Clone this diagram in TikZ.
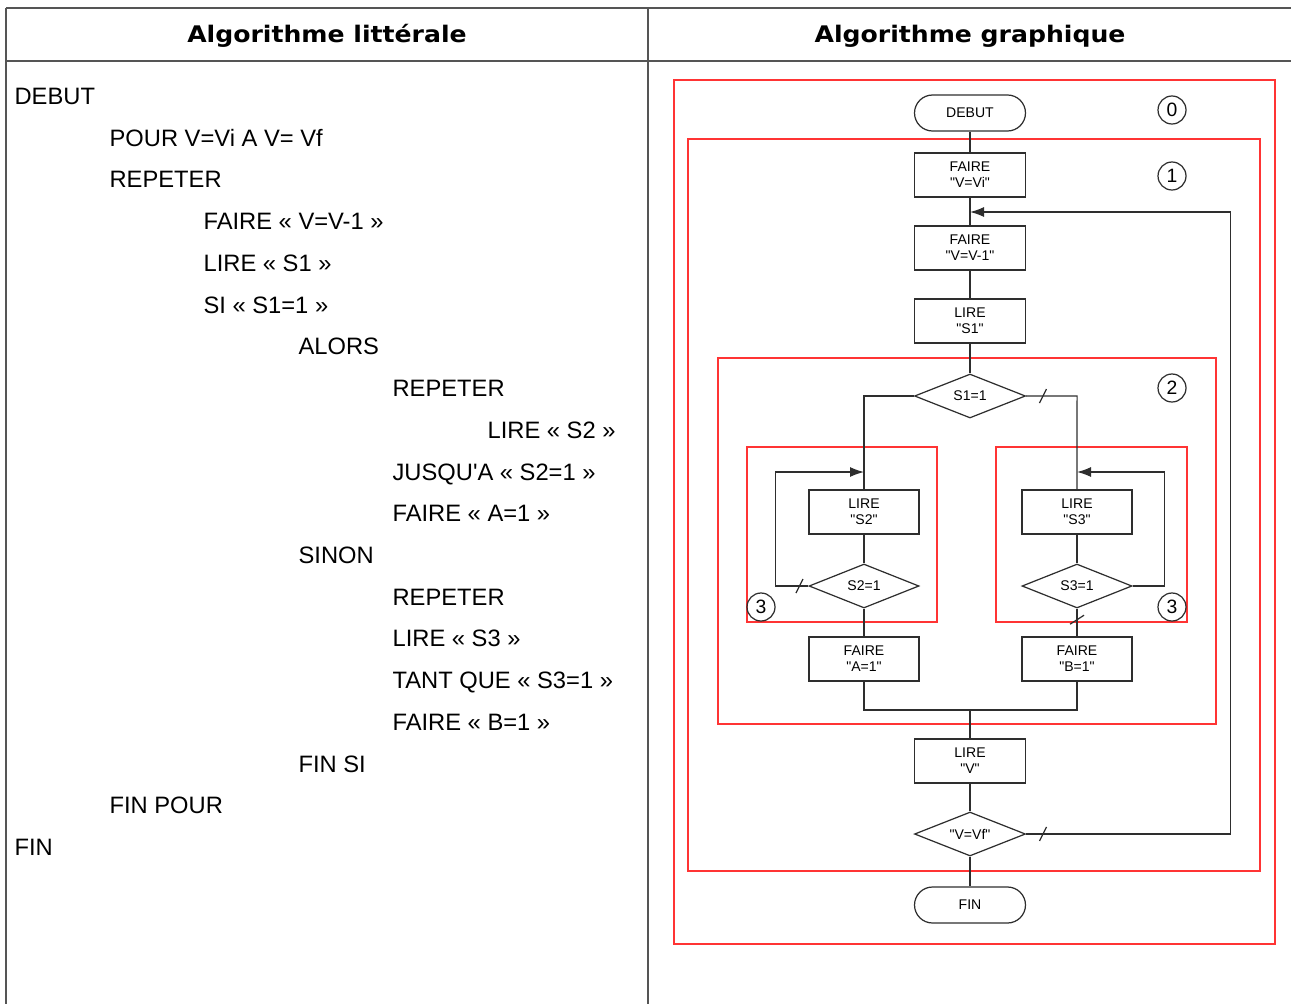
\documentclass[tikz,border=0pt]{standalone}
\usepackage{fontspec}
\newfontfamily\arialfont{Liberation Sans}
\newfontfamily\headfont{DejaVu Sans}
\usepackage{tikz}
\usetikzlibrary{shapes.geometric, arrows.meta, positioning, calc}
\definecolor{zonered}{HTML}{FF3434}
\definecolor{flowline}{HTML}{2E2E2E}
\definecolor{tabgray}{HTML}{555555}
\tikzstyle{algo} = [anchor=base west, inner sep=0pt, font=\arialfont\fontsize{13.5}{16}\selectfont]
\tikzstyle{heading} = [inner sep=0pt, font=\headfont\bfseries\fontsize{13}{15}\selectfont]
\tikzstyle{arrow} = [-{Latex[length=2.8mm, width=2mm]}]

\begin{document}
\begin{tikzpicture}[
    x=0.02cm, y=-0.02cm, line width=0.7pt,
    actbox/.style={rectangle, draw=flowline, minimum width=2.22cm, minimum height=0.88cm,
      inner sep=0pt, align=center, font=\arialfont\fontsize{8}{9}\selectfont},
    termbox/.style={rectangle, rounded corners=0.36cm, draw=flowline, minimum width=2.22cm,
      minimum height=0.72cm, inner sep=0pt, font=\arialfont\fontsize{8}{9}\selectfont},
    testbox/.style={diamond, aspect=2.5, draw=flowline, minimum width=2.22cm, minimum height=0.88cm,
      inner sep=0pt, font=\arialfont\fontsize{8}{9}\selectfont},
    zone/.style={draw=zonered},
    zonenum/.style={circle, draw=flowline, minimum size=0.56cm, inner sep=0pt,
      font=\arialfont\fontsize{11}{12}\selectfont},
    tab/.style={draw=tabgray, line width=0.6pt},
    pics/negh/.style={code={\draw[flowline, arrows=-] (-3.5,7) -- (3.5,-7);}},
    pics/negv/.style={code={\draw[flowline, arrows=-] (-7,4.5) -- (7,-4.5);}}
  ]
    \useasboundingbox (0,0) rectangle (1291,1004);

    % Table frame
    \draw[tab] (6,8) -- (1291,8);
    \draw[tab] (6,61) -- (1291,61);
    \draw[tab] (6,8) -- (6,1004);
    \draw[tab] (648,8) -- (648,1004);

    \node[heading] (h1) at (327,36) {\scalebox{1.1}[1]{Algorithme littérale}};
    \node[heading] (h2) at (970,36) {\scalebox{1.1}[1]{Algorithme graphique}};

    % Left column: written algorithm
    \node[algo] (t1) at (14,104.5) {DEBUT};
    \node[algo] (t2) at (109,146.2) {POUR V=Vi A V= Vf};
    \node[algo] (t3) at (109,187.9) {REPETER};
    \node[algo] (t4) at (203,229.7) {FAIRE « V=V-1 »};
    \node[algo] (t5) at (203,271.4) {LIRE « S1 »};
    \node[algo] (t6) at (203,313.1) {SI « S1=1 »};
    \node[algo] (t7) at (298,354.8) {ALORS};
    \node[algo] (t8) at (392,396.5) {REPETER};
    \node[algo] (t9) at (487,438.3) {LIRE « S2 »};
    \node[algo] (t10) at (392,480) {JUSQU'A « S2=1 »};
    \node[algo] (t11) at (392,521.7) {FAIRE « A=1 »};
    \node[algo] (t12) at (298,563.4) {SINON};
    \node[algo] (t13) at (392,605.1) {REPETER};
    \node[algo] (t14) at (392,646.9) {LIRE « S3 »};
    \node[algo] (t15) at (392,688.6) {TANT QUE « S3=1 »};
    \node[algo] (t16) at (392,730.3) {FAIRE « B=1 »};
    \node[algo] (t17) at (298,772) {FIN SI};
    \node[algo] (t18) at (109,813.7) {FIN POUR};
    \node[algo] (t19) at (14,855.5) {FIN};

    % Right column: red zones
    \draw[zone] (674,80) rectangle (1275,944);
    \draw[zone] (688,139) rectangle (1260,871);
    \draw[zone] (718,358) rectangle (1216,724);
    \draw[zone] (747,447) rectangle (937,622);
    \draw[zone] (996,447) rectangle (1187,622);

    \node[zonenum] (z0) at (1172,110) {0};
    \node[zonenum] (z1) at (1172,176) {1};
    \node[zonenum] (z2) at (1172,388) {2};
    \node[zonenum] (z3a) at (761,607) {3};
    \node[zonenum] (z3b) at (1172,607) {3};

    % Main column
    \node[termbox] (debut) at (970,113) {DEBUT};
    \node[actbox] (fvi) at (970,175) {FAIRE\\"V=Vi"};
    \node[actbox] (fv1) at (970,248) {FAIRE\\"V=V-1"};
    \node[actbox] (ls1) at (970,321) {LIRE\\"S1"};
    \node[testbox] (s1) at (970,396) {S1=1};

    % Branch S1=1 (left) and not S1=1 (right)
    \node[actbox, minimum width=2.2cm] (ls2) at (864,512) {LIRE\\"S2"};
    \node[testbox, minimum width=2.2cm] (s2) at (864,586) {S2=1};
    \node[actbox, minimum width=2.2cm] (fa) at (864,659) {FAIRE\\"A=1"};
    \node[actbox, minimum width=2.2cm] (ls3) at (1077,512) {LIRE\\"S3"};
    \node[testbox, minimum width=2.2cm] (s3) at (1077,586) {S3=1};
    \node[actbox, minimum width=2.2cm] (fb) at (1077,659) {FAIRE\\"B=1"};

    \node[actbox] (lv) at (970,761) {LIRE\\"V"};
    \node[testbox] (vf) at (970,834) {"V=Vf"};
    \node[termbox] (fin) at (970,905) {FIN};

    \coordinate (join1) at (970,212);
    \coordinate (jl) at (864,472);
    \coordinate (jr) at (1077,472);
    \coordinate (mrg) at (970,710);

    \draw[flowline] (debut) -- (fvi);
    \draw[flowline] (fvi) -- (fv1);
    \draw[flowline] (fv1) -- (ls1);
    \draw[flowline] (ls1) -- (s1);

    \draw[flowline] (s1.west) -| (ls2);
    \draw[flowline] (s1.east) -- pic[pos=0.33]{negh} ++(51,0) -- (ls3);
    \draw[flowline] (ls2) -- (s2);
    \draw[flowline] (s2) -- (fa);
    \draw[flowline] (ls3) -- (s3);
    \draw[flowline] (s3) -- pic[pos=0.4]{negv} (fb);

    % Repeat loops
    \draw[flowline, arrow] (s2.west) -- pic[pos=0.27]{negh} ++(-33,0) |- (jl);
    \draw[flowline, arrow] (s3.east) -- ++(32,0) |- (jr);

    \draw[flowline] (fa) |- (mrg) -| (fb);
    \draw[flowline] (mrg) -- (lv);
    \draw[flowline] (lv) -- (vf);
    \draw[flowline] (vf) -- (fin);

    % Loop back on V
    \draw[flowline, arrow] (vf.east) -- pic[pos=0.083]{negh} ++(204,0) |- (join1);
  \end{tikzpicture}
\end{document}
